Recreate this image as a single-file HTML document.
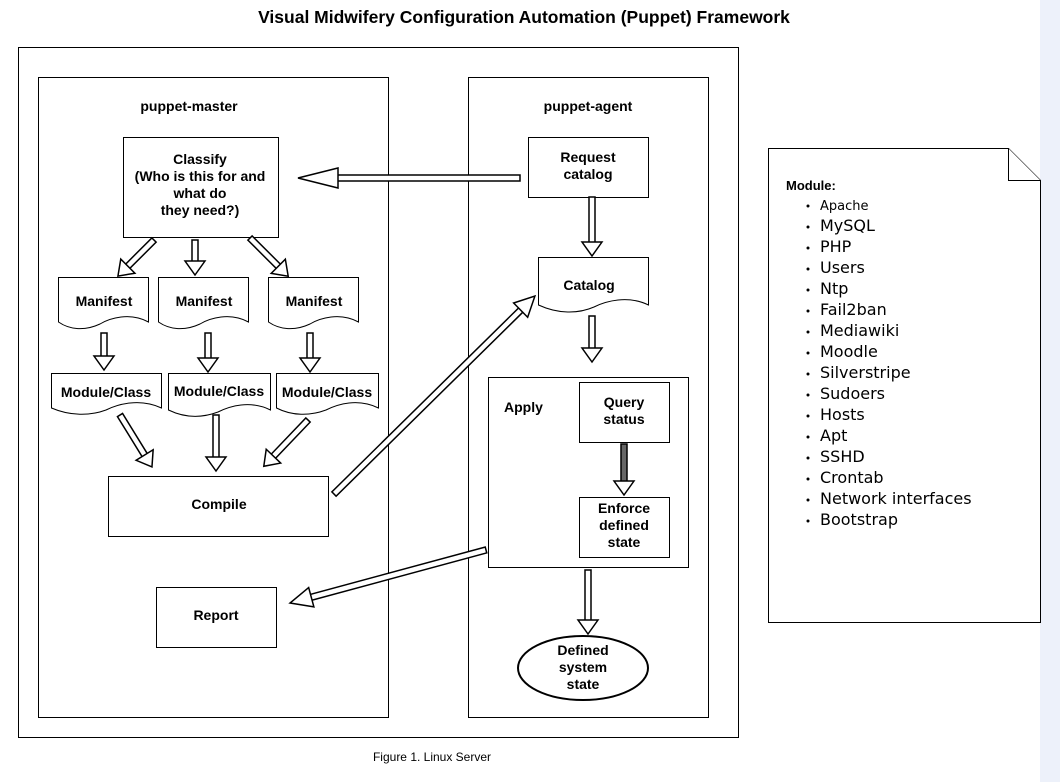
<!DOCTYPE html>
<html><head><meta charset="utf-8"><style>
html,body{margin:0;padding:0;background:#fff}
svg{display:block}
text{font-family:"Liberation Sans",Arial,sans-serif;font-weight:bold;font-size:14px;fill:#000}
.n{font-family:"DejaVu Sans",sans-serif;font-weight:normal;font-size:16px}
</style></head><body>
<svg width="1060" height="782" viewBox="0 0 1060 782" xmlns="http://www.w3.org/2000/svg">
<rect x="1040" y="0" width="20" height="782" fill="#edf1fa"/>
<text x="524" y="23" text-anchor="middle" style="font-size:17.5px">Visual Midwifery Configuration Automation (Puppet) Framework</text>
<g fill="#fff" stroke="#000" stroke-width="1">
<rect x="18.5" y="47.5" width="720" height="690"/>
<rect x="38.5" y="77.5" width="350" height="640"/>
<rect x="468.5" y="77.5" width="240" height="640"/>
<rect x="123.5" y="137.5" width="155" height="100"/>
<rect x="108.5" y="476.5" width="220" height="60"/>
<rect x="156.5" y="587.5" width="120" height="60"/>
<rect x="528.5" y="137.5" width="120" height="60"/>
<rect x="488.5" y="377.5" width="200" height="190"/>
<rect x="579.5" y="382.5" width="90" height="60"/>
<rect x="579.5" y="497.5" width="90" height="60"/>
<ellipse cx="583" cy="668" rx="65" ry="32" stroke-width="2"/>
<path d="M58.5 277.5 H148.5 V322 C130 312 110 318 100 324 C85 331 70 330 58.5 322 Z"/>
<path d="M158.5 277.5 H248.5 V322 C230 312 210 318 200 324 C185 331 170 330 158.5 322 Z"/>
<path d="M268.5 277.5 H358.5 V322 C340 312 320 318 310 324 C295 331 280 330 268.5 322 Z"/>
<path d="M51.5 373.5 H161.5 V408 C140 398 118 404 106 410 C90 416 70 416 51.5 408 Z"/>
<path d="M168.5 373.5 H270.5 V410 C250 400 230 406 218 412 C202 418 185 418 168.5 410 Z"/>
<path d="M276.5 373.5 H378.5 V408 C358 398 338 404 326 410 C310 416 292 416 276.5 408 Z"/>
<path d="M538.5 257.5 H648.5 V305 C628 295 606 301 594 307 C578 314 558 314 538.5 305 Z"/>
<path d="M768.5 148.5 H1008.5 L1040.5 180.5 V622.5 H768.5 Z"/>
<path d="M1008.5 148.5 V180.5 H1040.5"/>
</g>
<g fill="#fff" stroke="#000" stroke-width="1.5">
<g transform="translate(520,178) rotate(180)"><rect x="0" y="-3" width="183" height="6"/><polygon points="182,-10 222,0 182,10"/></g>
<g transform="translate(154,240) rotate(135)"><rect x="0" y="-3" width="38" height="6"/><polygon points="37,-10 51,0 37,10"/></g>
<g transform="translate(195,240) rotate(90)"><rect x="0" y="-3" width="22" height="6"/><polygon points="21,-10 35,0 21,10"/></g>
<g transform="translate(250,238) rotate(45)"><rect x="0" y="-3" width="41" height="6"/><polygon points="40,-10 54,0 40,10"/></g>
<g transform="translate(104,333) rotate(90)"><rect x="0" y="-3" width="24" height="6"/><polygon points="23,-10 37,0 23,10"/></g>
<g transform="translate(208,333) rotate(90)"><rect x="0" y="-3" width="26" height="6"/><polygon points="25,-10 39,0 25,10"/></g>
<g transform="translate(310,333) rotate(90)"><rect x="0" y="-3" width="26" height="6"/><polygon points="25,-10 39,0 25,10"/></g>
<g transform="translate(120,415) rotate(58.4)"><rect x="0" y="-3" width="48" height="6"/><polygon points="47,-10 61,0 47,10"/></g>
<g transform="translate(216,415) rotate(90)"><rect x="0" y="-3" width="43" height="6"/><polygon points="42,-10 56,0 42,10"/></g>
<g transform="translate(308,420) rotate(133.7)"><rect x="0" y="-3" width="51" height="6"/><polygon points="50,-10 64,0 50,10"/></g>
<g transform="translate(334,494) rotate(-44.57)"><rect x="0" y="-3" width="263" height="6"/><polygon points="262,-10 282,0 262,10"/></g>
<g transform="translate(592,197) rotate(90)"><rect x="0" y="-3" width="46" height="6"/><polygon points="45,-10 59,0 45,10"/></g>
<g transform="translate(592,316) rotate(90)"><rect x="0" y="-3" width="33" height="6"/><polygon points="32,-10 46,0 32,10"/></g>
<g transform="translate(624,444) rotate(90)"><rect x="0" y="-3" width="38" height="6" fill="#666"/><polygon points="37,-10 51,0 37,10"/></g>
<g transform="translate(486,550) rotate(164.87)"><rect x="0" y="-3" width="182" height="6"/><polygon points="181,-10 203,0 181,10"/></g>
<g transform="translate(588,570) rotate(90)"><rect x="0" y="-3" width="51" height="6"/><polygon points="50,-10 64,0 50,10"/></g>
</g>
<text x="189" y="111" text-anchor="middle">puppet-master</text>
<text x="588" y="111" text-anchor="middle">puppet-agent</text>
<text x="200" y="164" text-anchor="middle">Classify</text>
<text x="200" y="181" text-anchor="middle">(Who is this for and</text>
<text x="200" y="198" text-anchor="middle">what do</text>
<text x="200" y="215" text-anchor="middle">they need?)</text>
<text x="104" y="306" text-anchor="middle">Manifest</text>
<text x="204" y="306" text-anchor="middle">Manifest</text>
<text x="314" y="306" text-anchor="middle">Manifest</text>
<text x="106" y="397" text-anchor="middle">Module/Class</text>
<text x="219" y="396" text-anchor="middle">Module/Class</text>
<text x="327" y="397" text-anchor="middle">Module/Class</text>
<text x="219" y="509" text-anchor="middle">Compile</text>
<text x="216" y="620" text-anchor="middle">Report</text>
<text x="588" y="162" text-anchor="middle">Request</text>
<text x="588" y="179" text-anchor="middle">catalog</text>
<text x="589" y="290" text-anchor="middle">Catalog</text>
<text x="504" y="412">Apply</text>
<text x="624" y="407" text-anchor="middle">Query</text>
<text x="624" y="424" text-anchor="middle">status</text>
<text x="624" y="513" text-anchor="middle">Enforce</text>
<text x="624" y="530" text-anchor="middle">defined</text>
<text x="624" y="547" text-anchor="middle">state</text>
<text x="583" y="655" text-anchor="middle">Defined</text>
<text x="583" y="672" text-anchor="middle">system</text>
<text x="583" y="689" text-anchor="middle">state</text>
<text x="432" y="761" text-anchor="middle" style="font-weight:normal;font-size:12px">Figure 1. Linux Server</text>
<text x="786" y="190" style="font-size:13px">Module:</text>
<text class="n" x="820" y="210" style="font-size:13px">Apache</text>
<text class="n" x="820" y="231">MySQL</text>
<text class="n" x="820" y="252">PHP</text>
<text class="n" x="820" y="273">Users</text>
<text class="n" x="820" y="294">Ntp</text>
<text class="n" x="820" y="315">Fail2ban</text>
<text class="n" x="820" y="336">Mediawiki</text>
<text class="n" x="820" y="357">Moodle</text>
<text class="n" x="820" y="378">Silverstripe</text>
<text class="n" x="820" y="399">Sudoers</text>
<text class="n" x="820" y="420">Hosts</text>
<text class="n" x="820" y="441">Apt</text>
<text class="n" x="820" y="462">SSHD</text>
<text class="n" x="820" y="483">Crontab</text>
<text class="n" x="820" y="504">Network interfaces</text>
<text class="n" x="820" y="525">Bootstrap</text>
<g fill="#000">
<circle cx="808" cy="206" r="1.5"/><circle cx="808" cy="227" r="1.5"/><circle cx="808" cy="248" r="1.5"/><circle cx="808" cy="269" r="1.5"/><circle cx="808" cy="290" r="1.5"/><circle cx="808" cy="311" r="1.5"/><circle cx="808" cy="332" r="1.5"/><circle cx="808" cy="353" r="1.5"/><circle cx="808" cy="374" r="1.5"/><circle cx="808" cy="395" r="1.5"/><circle cx="808" cy="416" r="1.5"/><circle cx="808" cy="437" r="1.5"/><circle cx="808" cy="458" r="1.5"/><circle cx="808" cy="479" r="1.5"/><circle cx="808" cy="500" r="1.5"/><circle cx="808" cy="521" r="1.5"/>
</g>
</svg>
</body></html>
